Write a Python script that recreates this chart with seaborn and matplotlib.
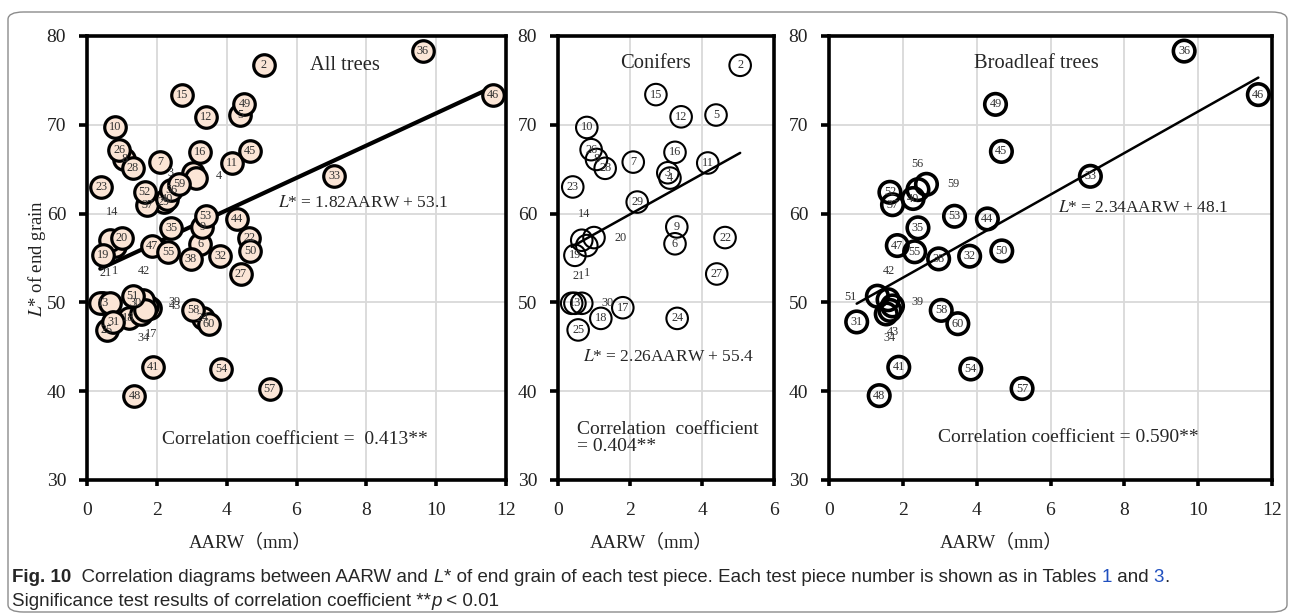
import matplotlib
matplotlib.use('Agg')
import matplotlib.pyplot as plt
import seaborn as sns
import pandas as pd
from matplotlib.patches import FancyBboxPatch

# ---------------- data ----------------
con_ids = [1, 2, 3, 4, 5, 6, 7, 8, 9, 10, 11, 12, 13, 14, 15, 16, 17, 18, 19, 20,
           21, 22, 23, 24, 25, 26, 27, 28, 29, 30]
con_aarw = [0.80, 5.06, 3.05, 3.11, 4.39, 3.25, 2.09, 1.07, 3.30, 0.80, 4.16, 3.42, 0.47, 0.66,
            2.72, 3.25, 1.80, 1.19, 0.47, 1.00, 0.38, 4.64, 0.41, 3.31, 0.56, 0.92, 4.41, 1.31,
            2.20, 0.66]
con_L = [56.4, 76.7, 64.6, 64.0, 71.1, 56.6, 65.8, 66.1, 58.5, 69.7, 65.7, 70.9, 49.9, 57.0,
         73.4, 66.9, 49.4, 48.2, 55.3, 57.3, 49.9, 57.3, 63.0, 48.2, 46.9, 67.2, 53.2, 65.1,
         61.3, 49.9]

bro_ids = [31, 32, 33, 34, 35, 36, 37, 38, 39, 40, 41, 42, 43, 44, 45, 46, 47, 48, 49, 50,
           51, 52, 53, 54, 55, 56, 57, 58, 59, 60]
bro_aarw = [0.75, 3.81, 7.08, 1.55, 2.41, 9.62, 1.72, 2.97, 1.72, 2.28, 1.89, 1.60, 1.65, 4.29,
            4.67, 11.63, 1.85, 1.36, 4.51, 4.68, 1.31, 1.65, 3.40, 3.84, 2.32, 2.41, 5.23, 3.04,
            2.64, 3.49]
bro_L = [47.8, 55.2, 64.2, 48.7, 58.4, 78.3, 61.0, 54.9, 49.6, 61.7, 42.7, 50.3, 49.1, 59.4,
         67.0, 73.4, 56.4, 39.5, 72.3, 55.8, 50.7, 62.4, 59.7, 42.5, 55.7, 62.7, 40.3, 49.1,
         63.3, 47.6]

panel_titles = ["All trees", "Conifers", "Broadleaf trees"]
fit_slope = [1.82, 2.26, 2.34]
fit_icept = [53.1, 55.4, 48.1]
corr_text = ["Correlation coefficient =  0.413**",
             "Correlation  coefficient\n= 0.404**",
             "Correlation coefficient = 0.590**"]
x_limits = [12, 6, 12]
y_ticks = [30, 40, 50, 60, 70, 80]

# data-label positions that were moved away from their markers (text placement)
moved_labels = [
    {1: (0.80, 53.5), 3: (2.38, 64.6), 4: (3.79, 64.2), 14: (0.72, 60.2), 17: (1.83, 46.4),
     21: (0.54, 53.3), 30: (1.40, 49.9), 34: (1.61, 46.0), 39: (2.50, 50.1), 42: (1.64, 53.5),
     43: (2.52, 49.6)},
    {1: (0.81, 53.3), 14: (0.72, 60.0), 20: (1.75, 57.2), 21: (0.56, 53.0), 30: (1.37, 49.9)},
    {34: (1.63, 46.0), 39: (2.41, 50.0), 42: (1.63, 53.5), 43: (1.74, 46.7), 51: (0.57, 50.6),
     56: (2.40, 65.6), 59: (3.38, 63.3)},
]

con = pd.DataFrame({"id": con_ids, "AARW": con_aarw, "L": con_L})
bro = pd.DataFrame({"id": bro_ids, "AARW": bro_aarw, "L": bro_L})
alld = pd.concat([con, bro], ignore_index=True)
frames = [alld, con, bro]

# ---------------- style ----------------
sns.set_theme(style="white")
plt.rcParams['font.family'] = ['Liberation Serif', 'Noto Sans CJK JP', 'DejaVu Sans']
plt.rcParams['mathtext.fontset'] = 'stix'

W, H = 1293, 616
fig = plt.figure(figsize=(W / 100, H / 100), dpi=100)

# outer rounded frame
frame = FancyBboxPatch((8 / W, 4 / H), 1279 / W, 600 / H,
                       boxstyle="round,pad=0,rounding_size=0.012",
                       transform=fig.transFigure, fill=False,
                       edgecolor="#8c8c8c", linewidth=1.0)
fig.patches.append(frame)

boxes = [(87, 506), (558, 774), (829, 1272)]
top, bot = 36, 480

face = ["#FBE5D6", "none", "none"]
edge_lw = [2.3, 1.5, 2.6]
line_lw = [3.0, 1.8, 1.8]
text_pos = [
    dict(title=(6.39, 76.7), eq=(5.47, 61.2), corr=(2.15, 34.6)),
    dict(title=(1.72, 76.9), eq=(0.69, 43.8), corr=(0.53, 34.7)),
    dict(title=(3.92, 76.9), eq=(6.20, 60.6), corr=(2.95, 34.8)),
]
xlabel_x = [0.39, 0.43, 0.39]

for i, (l, r) in enumerate(boxes):
    ax = fig.add_axes([l / W, 1 - bot / H, (r - l) / W, (bot - top) / H])
    df = frames[i]
    sns.scatterplot(data=df, x="AARW", y="L", ax=ax, s=240, marker="o",
                    facecolor=face[i], edgecolor="black", linewidth=edge_lw[i],
                    zorder=3, legend=False)
    # data labels
    for pid, xv, yv in zip(df["id"], df["AARW"], df["L"]):
        tx, ty = moved_labels[i].get(pid, (xv, yv))
        ax.text(tx, ty, str(pid), ha="center", va="center", fontsize=8.8,
                color="#333333", zorder=4)
    # regression line
    xmin, xmax = df["AARW"].min(), df["AARW"].max()
    lx = pd.Series([xmin, xmax])
    ly = fit_slope[i] * lx + fit_icept[i]
    sns.lineplot(x=lx, y=ly, ax=ax, color="black", linewidth=line_lw[i], zorder=2)

    tp = text_pos[i]
    ax.text(*tp["title"], panel_titles[i], fontsize=14.8, va="center", ha="left", zorder=5)
    ax.text(*tp["eq"], r"$\mathit{L}$* = %.2fAARW + %.1f" % (fit_slope[i], fit_icept[i]),
            fontsize=12.5, va="center", ha="left", zorder=5)
    ax.text(*tp["corr"], corr_text[i], fontsize=14, va="center", ha="left",
            linespacing=1.0, zorder=5)

    ax.set_xlim(0, x_limits[i])
    ax.set_ylim(30, 80)
    ax.set_xticks(list(range(0, x_limits[i] + 1, 2)))
    ax.set_yticks(y_ticks)
    ax.grid(True, color="#d9d9d9", linewidth=1.3)
    ax.set_axisbelow(True)
    for sp in ax.spines.values():
        sp.set_visible(True)
        sp.set_color("black")
        sp.set_linewidth(2.6)
    ax.tick_params(axis="y", direction="out", length=6, width=2.6, pad=9,
                   labelsize=14, left=True, colors="black")
    ax.tick_params(axis="x", direction="out", length=4, width=2.6, pad=12,
                   labelsize=14, bottom=True, colors="black")
    for lab in ax.get_xticklabels() + ax.get_yticklabels():
        lab.set_color("#222222")
    ax.set_xlabel("AARW（mm）", fontsize=13.5, color="#222222")
    ax.xaxis.set_label_coords(xlabel_x[i], -0.12)
    if i == 0:
        ax.set_ylabel(r"$\mathit{L}$* of end grain", fontsize=13.5, color="#222222")
        ax.yaxis.set_label_coords(-0.092, 0.5)
    else:
        ax.set_ylabel("")

# ---------------- caption ----------------
cap_font = ['Liberation Sans Narrow', 'Liberation Sans', 'DejaVu Sans']
fig.canvas.draw()
renderer = fig.canvas.get_renderer()


def write_segments(x0, y0, segs, size):
    x = x0
    for s, kw in segs:
        t = fig.text(x / W, 1 - y0 / H, s, fontsize=size, family=cap_font,
                     va="center", ha="left", **kw)
        bb = t.get_window_extent(renderer=renderer)
        x += bb.width


blue = "#1f4fbf"
write_segments(12, 577, [
    ("Fig. 10", dict(fontweight="bold")),
    ("  Correlation diagrams between AARW and ", {}),
    ("L", dict(style="italic")),
    ("* of end grain of each test piece. Each test piece number is shown as in Tables ", {}),
    ("1", dict(color=blue)),
    (" and ", {}),
    ("3", dict(color=blue)),
    (".", {}),
], 13.5)
write_segments(12, 601, [
    ("Significance test results of correlation coefficient **", {}),
    ("p", dict(style="italic")),
    (" < 0.01", {}),
], 13.5)

fig.savefig("out.png", dpi=100)
